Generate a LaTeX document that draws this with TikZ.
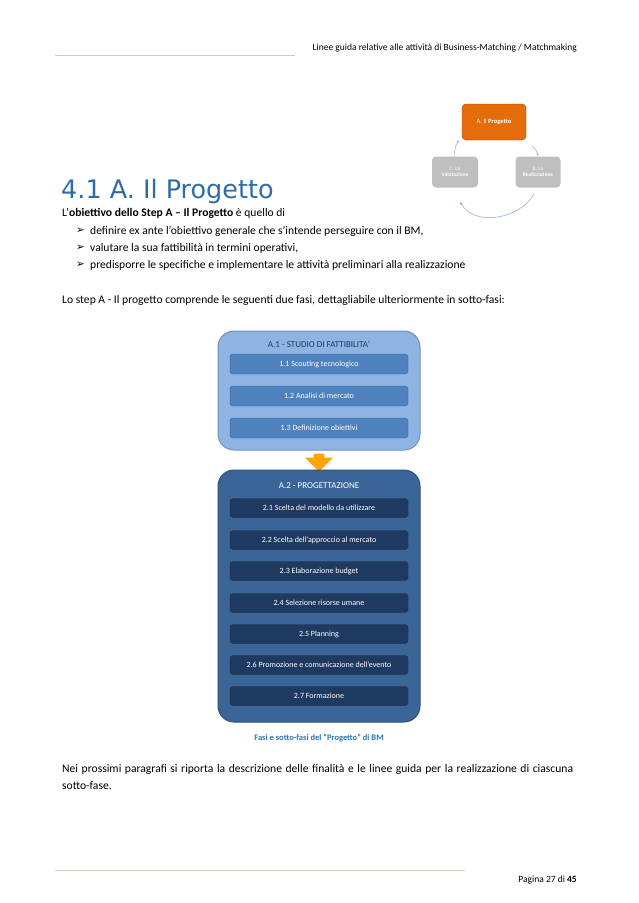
\documentclass[tikz,border=0pt]{standalone}
\usepackage{fontspec}
\setmainfont{Carlito}
\newfontfamily\dejavu{DejaVu Sans}
\usetikzlibrary{shapes.arrows,arrows.meta}
\definecolor{hdrline}{HTML}{C9D3A8}
\definecolor{ttl}{HTML}{2E6DA4}
\definecolor{lblue}{HTML}{8EB4E3}
\definecolor{mblue}{HTML}{4F81BD}
\definecolor{dblue}{HTML}{3A6596}
\definecolor{ddblue}{HTML}{1F3A60}
\definecolor{orng}{HTML}{E46C0A}
\definecolor{gry}{HTML}{BFBFBF}
\definecolor{cap}{HTML}{2E75B6}
\tikzset{
 body/.style={anchor=west,inner sep=0pt,font=\fontsize{11.6}{17}\selectfont},
 bigbox/.style={draw=#1!80!black,rounded corners=16pt,line width=1pt},
 sub/.style={rounded corners=3pt,minimum width=178pt,minimum height=20pt,text=white,font=\fontsize{8}{9}\selectfont,inner sep=0pt},
 cyc/.style={rounded corners=4pt,text=white,align=center,inner sep=0pt,font=\fontsize{5.5}{6}\selectfont},
 carr/.style={-{Stealth[length=3pt]},draw=mblue!60,line width=0.6pt}
}
\begin{document}
\begin{tikzpicture}[x=1pt,y=-1pt]
\useasboundingbox (0,0) rectangle (638,903);
\fill[white] (0,0) rectangle (638,903);
% header
\coordinate (h1) at (55,55); \coordinate (h2) at (295,55);
\draw[hdrline,line width=0.6pt] (h1) -- (h2);
\node[anchor=east,inner sep=0pt,font=\fontsize{9.5}{10}\selectfont] (hdr) at (577,48) {Linee guida relative alle attività di Business-Matching / Matchmaking};
% cycle
\node[cyc,fill=orng,draw=orng!70!black,minimum width=64pt,minimum height=36pt,font=\fontsize{6.5}{7}\selectfont] (A) at (494,122) {A. Il \textbf{Progetto}};
\node[cyc,fill=gry,minimum width=46pt,minimum height=31pt] (C) at (455,172) {C. La\\\textbf{Valutazione}};
\node[cyc,fill=gry,minimum width=45pt,minimum height=31pt] (B) at (538,172) {B. La\\\textbf{Realizzazione}};
\coordinate (ab) at (532,146);
\coordinate (bc1) at (534,194);
\coordinate (bc2) at (460,202);
\draw[carr] (ab) to[bend left=20] (B.north);
\draw[carr] (bc1) to[out=240,in=300] (bc2);
\draw[carr] (C.north) to[bend left=20] ([xshift=-3pt]A.south west);
% title
\node[anchor=west,inner sep=0pt,text=ttl,font=\dejavu\fontsize{25.5}{28}\selectfont] (title) at (61,191) {4.1 A. Il Progetto};
\node[body] (t1) at (62,213) {L’\textbf{obiettivo dello Step A – Il Progetto} è quello di};
\foreach \yy/\tx [count=\i] in {231/{definire ex ante l’obiettivo generale che s’intende perseguire con il BM,}, 248/{valutare la sua fattibilità in termini operativi,}, 265/{predisporre le specifiche e implementare le attività preliminari alla realizzazione}}{
 \node[body,font=\dejavu\fontsize{10.5}{11}\selectfont] (bl\i) at (76,\yy) {➢};
 \node[body] (bt\i) at (90,\yy) {\tx};
}
\node[body] (t2) at (62,300) {Lo step A - Il progetto comprende le seguenti due fasi, dettagliabile ulteriormente in sotto-fasi:};
% A1
\draw[bigbox=lblue,fill=lblue] (218,331) rectangle (420,450);
\node[inner sep=0pt,font=\fontsize{9}{10}\selectfont,text=ddblue] (a1) at (319,344) {A.1 - STUDIO DI FATTIBILITA’};
\foreach \yy/\tx [count=\i] in {364/1.1 Scouting tecnologico, 396/1.2 Analisi di mercato, 428/1.3 Definizione obiettivi}
 \node[sub,fill=mblue,draw=mblue!80!black] (s1\i) at (319,\yy) {\tx};
% arrow
\node[single arrow,draw=none,fill=orange!70!yellow,shape border rotate=270,minimum width=28pt,single arrow head extend=5pt,minimum height=18pt,inner sep=3pt] (arr) at (319,460) {};
% A2
\draw[bigbox=dblue,fill=dblue] (218,470) rectangle (420,722);
\node[inner sep=0pt,font=\fontsize{9}{10}\selectfont,text=white] (a2) at (319,486) {A.2 - PROGETTAZIONE};
\foreach \yy/\tx [count=\i] in {508/2.1 Scelta del modello da utilizzare, 540/2.2 Scelta dell’approccio al mercato, 571/2.3 Elaborazione budget, 603/2.4 Selezione risorse umane, 634/2.5 Planning, 665/2.6 Promozione e comunicazione dell’evento, 696/2.7 Formazione}
 \node[sub,fill=ddblue,draw=ddblue!80!black,minimum height=19pt] (s2\i) at (319,\yy) {\tx};
\node[inner sep=0pt,text=cap,font=\bfseries\fontsize{8.5}{9}\selectfont] (capt) at (319,738) {Fasi e sotto-fasi del “Progetto” di BM};
\node[body,text width=511pt,align=justify] (p1) at (62,777) {Nei prossimi paragrafi si riporta la descrizione delle finalità e le linee guida per la realizzazione di ciascuna sotto-fase.};
% footer
\coordinate (f1) at (55,870); \coordinate (f2) at (465,870);
\draw[hdrline,line width=0.6pt] (f1) -- (f2);
\node[anchor=east,inner sep=0pt,font=\fontsize{9.5}{10}\selectfont] (pg) at (577,880) {Pagina 27 di \textbf{45}};
\end{tikzpicture}
\end{document}
